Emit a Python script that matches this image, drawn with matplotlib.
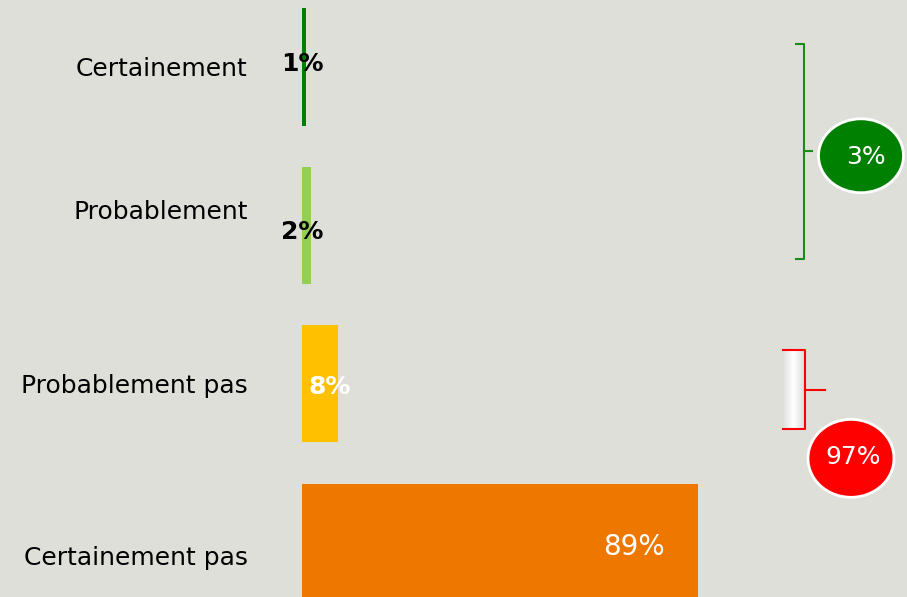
import matplotlib.pyplot as plt
from matplotlib.patches import Ellipse
from matplotlib.colors import LinearSegmentedColormap
from matplotlib.transforms import ScaledTranslation
import numpy as np

# donnees
categories = ['Certainement', 'Probablement', 'Probablement pas', 'Certainement pas']
valeurs = [1, 2, 8, 89]
couleurs = ['#008000', '#92D050', '#FFC000', '#EE7700']
etiquettes = ['1%', '2%', '8%', '89%']
total_oui = '3%'
total_non = '97%'

FOND = '#DFDFDA'
W, H = 907, 597

fig = plt.figure(figsize=(W / 100, H / 100), dpi=100, facecolor=FOND)
ax = fig.add_axes([302 / W, 0, (W - 302) / W, 1])
ax.set_facecolor(FOND)
for s in ax.spines.values():
    s.set_visible(False)
ax.set_xticks([])

y = np.arange(len(categories))
ax.barh(y, valeurs, height=0.74, color=couleurs)

ax.set_yticks(y)
ax.set_yticklabels(categories, fontsize=18)
ax.tick_params(axis='y', length=0, pad=39)
# decalages des libelles comme sur l'original
dy = [0, -0.1, 0, 0.08]
for lab, d in zip(ax.get_yticklabels(), dy):
    lab.set_transform(lab.get_transform() + ScaledTranslation(0, -d * 158.7 / 100, fig.dpi_scale_trans))

# etiquettes de valeur
pos_x = [0, 0, 6.3, 74.5]
decal_y = [-0.02, 0.04, 0.02, 0.03]
coul_txt = ['black', 'black', 'white', 'white']
gras = ['bold', 'bold', 'bold', 'normal']
taille = [18, 18, 18, 20]
for i in range(len(valeurs)):
    ax.text(pos_x[i], y[i] + decal_y[i], etiquettes[i], ha='center', va='center',
            color=coul_txt[i], fontsize=taille[i], fontweight=gras[i])

# accolades
def px(x):
    return (x - 302) / 4.45

def py(v):
    return (v - 67) / 158.7

def accolade(x, y0, y1, ym, g, d, c):
    ax.plot([px(x - g), px(x), px(x), px(x - g)], [py(y0), py(y0), py(y1), py(y1)],
            color=c, lw=1.5, clip_on=False)
    ax.plot([px(x), px(x + d)], [py(ym), py(ym)], color=c, lw=1.5, clip_on=False)

# petit rectangle clair dans l'accolade rouge
cm = LinearSegmentedColormap.from_list('clair', ['#FFFFFF', '#E2E2E2'])
grad = np.abs(np.linspace(-1, 1, 50))[None, :]
ax.imshow(grad, cmap=cm, aspect='auto',
          extent=[px(784), px(803), py(430), py(352)], zorder=1, clip_on=False)

accolade(804, 44, 259, 151, 8, 8, '#1A8A1A')
accolade(805, 351, 430, 391, 22, 20, '#FF0000')

# bulles
e1 = Ellipse((px(861), py(156)), 85 / 4.45, 74 / 158.7, facecolor='#008000',
             edgecolor='white', lw=2, clip_on=False)
ax.add_patch(e1)
ax.text(px(866), py(157), total_oui, ha='center', va='center', color='white', fontsize=18)
e2 = Ellipse((px(851), py(459)), 86 / 4.45, 78 / 158.7, facecolor='#FF0000',
             edgecolor='white', lw=2, clip_on=False)
ax.add_patch(e2)
ax.text(px(853), py(458), total_non, ha='center', va='center', color='white', fontsize=18)

ax.set_xlim(0, (W - 302) / 4.45)
ax.set_ylim(3.345, -0.422)

fig.savefig('out.png', dpi=100, facecolor=FOND)
